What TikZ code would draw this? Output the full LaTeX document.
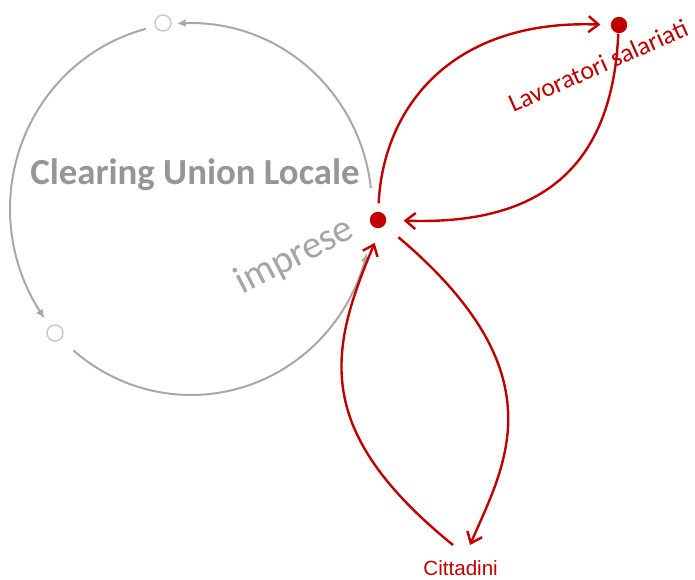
\documentclass[tikz,border=0pt]{standalone}
\usepackage{fontspec}
\setmainfont{Carlito}
\newfontfamily\arialfont{Liberation Sans}
\usetikzlibrary{arrows.meta}
\definecolor{cured}{RGB}{192,0,0}
\definecolor{cugray}{RGB}{168,168,168}
\definecolor{cutext}{RGB}{150,150,150}
\definecolor{cutext2}{RGB}{165,165,165}
\definecolor{cunode}{RGB}{200,200,200}
\tikzset{
  reddot/.style={circle,fill=cured,inner sep=0pt,minimum size=8.2pt},
  graydot/.style={circle,draw=cunode,line width=0.7pt,fill=white,inner sep=0pt,minimum size=8pt},
  redarrow/.style={draw=cured,line width=1.2pt,-{Straight Barb[length=5pt,width=8pt,line width=1.2pt]}},
  grayarrow/.style={draw=cugray,line width=1pt,-{Latex[length=4.5pt,width=4pt]}},
}
\begin{document}
\begin{tikzpicture}[x=0.5pt,y=0.5pt]
\useasboundingbox (0,0) rectangle (695,579);
% gray circle (center 191,370; radii 181,186)
\node[graydot] (top) at (163,556) {};
\node[graydot] (bl) at (55,246) {};
\draw[grayarrow] plot[domain=6.5:94.5,samples=80] ({191+181*cos(\x)},{370+186*sin(\x)});
\draw[grayarrow] plot[domain=104.4:216,samples=80] ({191+181*cos(\x)},{370+186*sin(\x)});
\draw[grayarrow] plot[domain=229.5:346.3,samples=80] ({191+181*cos(\x)},{370+186*sin(\x)});
\node[anchor=base west,text=cutext,font=\bfseries\fontsize{18.4pt}{20pt}\selectfont,inner sep=0pt] (clu) at (30,394) {Clearing Union Locale};
\node[anchor=base west,text=cutext2,font=\fontsize{19.5pt}{21pt}\selectfont,inner sep=0pt,rotate=27] (imprese) at (242,284) {imprese};
% red nodes
\node[reddot] (imp) at (378,359) {};
\node[reddot] (lav) at (619,554) {};
\node[anchor=base west,text=cured,font=\fontsize{12.9pt}{14pt}\selectfont,inner sep=0pt,rotate=24] (lavtxt) at (513,466) {Lavoratori salariati};
\node[anchor=base west,text=cured,font=\arialfont\fontsize{10.3pt}{12pt}\selectfont,inner sep=0pt] (cit) at (423,4) {Cittadini};
\coordinate (citIn) at (470,34);
\coordinate (citOut) at (453,34);
% red connectors
\draw[redarrow,shorten <=4pt,shorten >=5pt] (imp.88) .. controls (383,470) and (450,560) .. (lav.180);
\draw[redarrow,shorten >=8.5pt] (lav.-95) .. controls (612,400) and (528,354) .. (imp.0);
\draw[redarrow,shorten <=9pt] (imp.-40) .. controls (560,205) and (505,115) .. (citIn);
\draw[redarrow,shorten >=8pt] (citOut) .. controls (310,150) and (330,230) .. (imp.-70);
\end{tikzpicture}
\end{document}
